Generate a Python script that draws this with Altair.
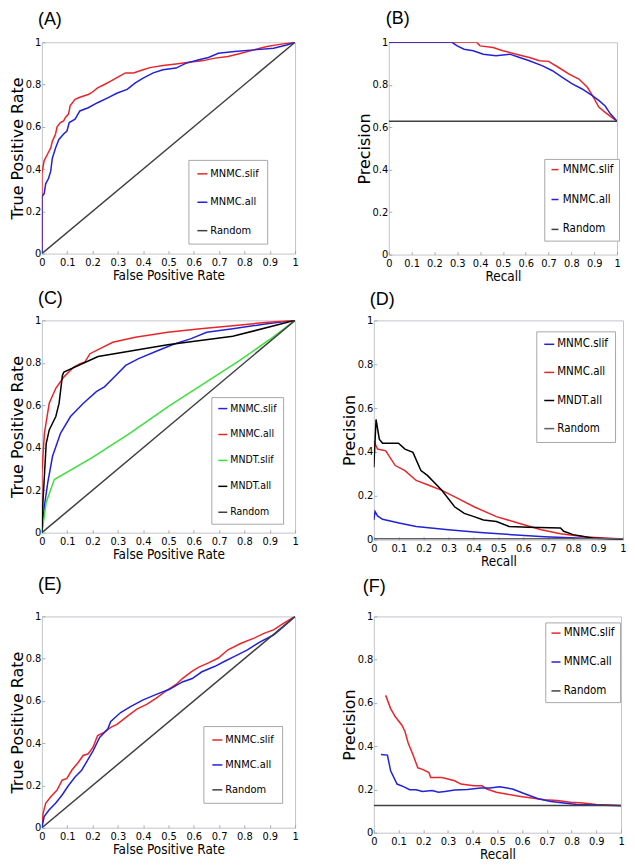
import altair as alt
import pandas as pd

NARROW = "'DejaVu Sans Condensed', 'DejaVu Sans', sans-serif"
SANS = "'DejaVu Sans', sans-serif"
TAG_FONT = "'Liberation Sans', Arial, sans-serif"

X_TICKS = [0, 0.1, 0.2, 0.3, 0.4, 0.5, 0.6, 0.7, 0.8, 0.9, 1]
Y_TICKS = [0, 0.2, 0.4, 0.6, 0.8, 1]

RED = "#e8262a"
BLUE = "#2222d8"
GREEN = "#3ce03c"
BLACK = "#000000"
RAND = "#404040"

# ---------------- Panel A : ROC ----------------
A_slif_x = [0, 0, 0.009, 0.022, 0.035, 0.041, 0.054, 0.06, 0.073, 0.086, 0.093, 0.105, 0.112, 0.131,
            0.15, 0.183, 0.195, 0.22, 0.247, 0.272, 0.298, 0.33, 0.362, 0.40, 0.427, 0.478, 0.53,
            0.58, 0.632, 0.684, 0.735, 0.787, 0.838, 0.889, 0.94, 1.0]
A_slif_y = [0, 0.38, 0.44, 0.47, 0.50, 0.53, 0.566, 0.60, 0.62, 0.628, 0.644, 0.66, 0.70, 0.73,
            0.74, 0.753, 0.76, 0.784, 0.80, 0.816, 0.834, 0.855, 0.855, 0.87, 0.88, 0.89, 0.897,
            0.905, 0.912, 0.925, 0.933, 0.948, 0.964, 0.98, 0.99, 1.0]
A_all_x = [0, 0, 0.009, 0.015, 0.026, 0.035, 0.041, 0.054, 0.067, 0.086, 0.099, 0.108, 0.131, 0.15,
           0.183, 0.22, 0.26, 0.298, 0.337, 0.369, 0.40, 0.44, 0.478, 0.53, 0.568, 0.62, 0.658,
           0.697, 0.761, 0.838, 0.915, 0.967, 1.0]
A_all_y = [0, 0.27, 0.284, 0.33, 0.355, 0.39, 0.45, 0.50, 0.54, 0.566, 0.58, 0.62, 0.636, 0.675,
           0.69, 0.714, 0.737, 0.76, 0.777, 0.808, 0.83, 0.855, 0.87, 0.878, 0.90, 0.917, 0.928,
           0.948, 0.956, 0.964, 0.972, 0.987, 1.0]
A_rand_x = [0, 1]
A_rand_y = [0, 1]

# ---------------- Panel B : PR ----------------
B_slif_x = [0, 0.385, 0.40, 0.457, 0.50, 0.558, 0.616, 0.66, 0.70, 0.746, 0.79, 0.833, 0.87,
            0.897, 0.92, 0.948, 0.977, 1.0]
B_slif_y = [1, 1, 0.983, 0.975, 0.96, 0.944, 0.928, 0.913, 0.91, 0.88, 0.85, 0.827, 0.788,
            0.74, 0.695, 0.67, 0.646, 0.628]
B_all_x = [0, 0.277, 0.30, 0.33, 0.37, 0.414, 0.47, 0.53, 0.573, 0.616, 0.674, 0.717, 0.76,
           0.804, 0.847, 0.89, 0.92, 0.948, 0.97, 1.0]
B_all_y = [1, 1, 0.983, 0.967, 0.96, 0.944, 0.936, 0.944, 0.928, 0.913, 0.889, 0.866, 0.835,
           0.804, 0.78, 0.75, 0.726, 0.70, 0.664, 0.628]
B_rand_x = [0, 1]
B_rand_y = [0.628, 0.628]

# ---------------- Panel C : ROC ----------------
C_slif_x = [0, 0.01, 0.023, 0.042, 0.074, 0.113, 0.164, 0.215, 0.247, 0.28, 0.331, 0.382,
            0.459, 0.523, 0.587, 0.651, 0.754, 0.882, 1.0]
C_slif_y = [0, 0.126, 0.235, 0.36, 0.469, 0.547, 0.61, 0.664, 0.687, 0.726, 0.788, 0.82,
            0.858, 0.889, 0.913, 0.944, 0.96, 0.983, 1.0]
C_all_x = [0, 0, 0.01, 0.029, 0.055, 0.087, 0.126, 0.151, 0.17, 0.19, 0.228, 0.28, 0.369,
           0.497, 0.626, 0.754, 0.882, 1.0]
C_all_y = [0, 0.28, 0.469, 0.61, 0.68, 0.734, 0.78, 0.796, 0.804, 0.843, 0.866, 0.897, 0.92,
           0.944, 0.96, 0.975, 0.99, 1.0]
C_dtslif_x = [0, 0.017, 0.049, 0.2, 0.35, 0.5, 0.65, 0.78, 0.9, 1.0]
C_dtslif_y = [0, 0.142, 0.25, 0.355, 0.47, 0.595, 0.71, 0.81, 0.91, 1.0]
C_dtall_x = [0, 0.004, 0.017, 0.029, 0.055, 0.068, 0.081, 0.087, 0.222, 0.497, 0.754, 1.0]
C_dtall_y = [0, 0.142, 0.42, 0.484, 0.547, 0.61, 0.741, 0.757, 0.83, 0.885, 0.925, 1.0]
C_rand_x = [0, 1]
C_rand_y = [0, 1]

# ---------------- Panel D : PR ----------------
D_slif_x = [0, 0.005, 0.015, 0.035, 0.106, 0.17, 0.299, 0.427, 0.556, 0.685, 0.813, 1.0]
D_slif_y = [0.09, 0.128, 0.108, 0.093, 0.075, 0.06, 0.045, 0.033, 0.0225, 0.0135, 0.0075, 0.003]
D_all_x = [0, 0.015, 0.048, 0.086, 0.125, 0.17, 0.221, 0.273, 0.337, 0.402, 0.492, 0.582,
           0.672, 0.749, 0.852, 1.0]
D_all_y = [0.45, 0.413, 0.405, 0.338, 0.315, 0.27, 0.248, 0.225, 0.188, 0.15, 0.105, 0.075,
           0.045, 0.027, 0.012, 0.003]
D_dtall_x = [0, 0.009, 0.022, 0.035, 0.099, 0.125, 0.157, 0.189, 0.215, 0.273, 0.324, 0.363,
             0.402, 0.44, 0.492, 0.543, 0.62, 0.749, 0.762, 0.80, 0.878, 1.0]
D_dtall_y = [0.33, 0.548, 0.458, 0.44, 0.44, 0.413, 0.398, 0.315, 0.293, 0.225, 0.15, 0.12,
             0.105, 0.09, 0.083, 0.06, 0.057, 0.053, 0.038, 0.023, 0.0075, 0.0]
D_rand_x = [0, 1]
D_rand_y = [0.0045, 0.0045]

# ---------------- Panel E : ROC ----------------
E_slif_x = [0, 0.005, 0.015, 0.035, 0.06, 0.08, 0.099, 0.118, 0.144, 0.163, 0.183, 0.202, 0.22,
            0.247, 0.272, 0.298, 0.337, 0.375, 0.414, 0.452, 0.49, 0.53, 0.555, 0.594, 0.62,
            0.658, 0.697, 0.735, 0.787, 0.838, 0.877, 0.915, 0.954, 1.0]
E_slif_y = [0, 0.069, 0.116, 0.147, 0.178, 0.225, 0.233, 0.272, 0.31, 0.342, 0.35, 0.381, 0.436,
            0.452, 0.475, 0.49, 0.527, 0.561, 0.584, 0.613, 0.647, 0.678, 0.706, 0.741, 0.76,
            0.78, 0.803, 0.842, 0.873, 0.897, 0.92, 0.936, 0.967, 1.0]
E_all_x = [0, 0.009, 0.028, 0.054, 0.08, 0.105, 0.131, 0.157, 0.176, 0.202, 0.228, 0.26, 0.272,
           0.311, 0.35, 0.40, 0.452, 0.504, 0.555, 0.594, 0.632, 0.684, 0.722, 0.761, 0.812,
           0.864, 0.915, 0.954, 1.0]
E_all_y = [0, 0.053, 0.084, 0.116, 0.155, 0.20, 0.24, 0.272, 0.31, 0.364, 0.427, 0.467, 0.503,
           0.545, 0.573, 0.605, 0.631, 0.655, 0.69, 0.706, 0.738, 0.764, 0.788, 0.811, 0.842,
           0.881, 0.912, 0.952, 1.0]
E_rand_x = [0, 1]
E_rand_y = [0, 1]

# ---------------- Panel F : PR ----------------
F_slif_x = [0.048, 0.068, 0.087, 0.113, 0.126, 0.139, 0.158, 0.178, 0.197, 0.223, 0.23, 0.275,
            0.30, 0.327, 0.353, 0.405, 0.438, 0.457, 0.496, 0.535, 0.587, 0.639, 0.69, 0.743,
            0.795, 0.847, 0.899, 1.0]
F_slif_y = [0.635, 0.574, 0.536, 0.498, 0.468, 0.415, 0.362, 0.30, 0.293, 0.278, 0.255, 0.255,
            0.248, 0.24, 0.225, 0.217, 0.217, 0.202, 0.187, 0.179, 0.169, 0.16, 0.152, 0.149,
            0.141, 0.137, 0.131, 0.126]
F_all_x = [0.029, 0.055, 0.068, 0.094, 0.12, 0.145, 0.171, 0.197, 0.236, 0.262, 0.288, 0.327,
           0.379, 0.431, 0.47, 0.509, 0.561, 0.613, 0.665, 0.717, 0.769, 0.821, 0.899, 1.0]
F_all_y = [0.362, 0.359, 0.286, 0.225, 0.213, 0.199, 0.199, 0.191, 0.195, 0.187, 0.191, 0.198,
           0.20, 0.207, 0.207, 0.213, 0.202, 0.179, 0.157, 0.144, 0.137, 0.131, 0.128, 0.125]
F_rand_x = [0, 1]
F_rand_y = [0.126, 0.126]

NB = "\u00a0"


def frame(series):
    rows = []
    for name, xs, ys in series:
        for i, (x, y) in enumerate(zip(xs, ys)):
            rows.append({"series": name, "x": x, "y": y, "i": i})
    return pd.DataFrame(rows)


def panel(series, colors, widths, xtitle, ytitle, tag, w, h, tdx, tdy, leg):
    names = [s[0] for s in series]
    df = frame(series)
    legend = alt.Legend(
        orient="none", direction="vertical", title=None,
        symbolType="stroke", symbolStrokeWidth=1.5,
        labelFont=NARROW, labelColor="black", labelOffset=2, labelLimit=300,
        strokeColor="#a8a8a8", fillColor="white",
        **leg,
    )
    return alt.Chart(
        df,
        title=alt.TitleParams(tag, anchor="start", frame="group", dx=tdx, dy=tdy, offset=0,
                              fontSize=18, font=TAG_FONT, fontWeight="normal",
                              baseline="bottom", color="black"),
    ).mark_line(clip=True).encode(
        x=alt.X("x:Q", scale=alt.Scale(domain=[0, 1], nice=False, zero=False),
                axis=alt.Axis(values=X_TICKS, format=".1~f", title=xtitle,
                              offset=-3, ticks=True, tickSize=3,
                              labelPadding=3, titlePadding=1,
                              titleFont=NARROW, titleFontSize=13.5)),
        y=alt.Y("y:Q", scale=alt.Scale(domain=[0, 1], nice=False, zero=False),
                axis=alt.Axis(values=Y_TICKS, format=".1~f", title=ytitle,
                              offset=-3, ticks=True, tickSize=3,
                              labelPadding=1, titlePadding=0,
                              titleFont=SANS, titleFontSize=16)),
        color=alt.Color("series:N", scale=alt.Scale(domain=names, range=colors), legend=legend),
        strokeWidth=alt.StrokeWidth("series:N", scale=alt.Scale(domain=names, range=widths),
                                    legend=None),
        order=alt.Order("i:Q"),
    ).properties(width=w, height=h)


chartA = panel(
    [("MNMC.slif", A_slif_x, A_slif_y), ("MNMC.all", A_all_x, A_all_y), ("Random", A_rand_x, A_rand_y)],
    [RED, BLUE, RAND], [1.5, 1.5, 1.1],
    "False Positive Rate", "True Positive Rate", "(A)", 254, 212, -4, 11,
    dict(legendX=147, legendY=118, symbolSize=100, labelFontSize=11, rowPadding=17.5, padding=8,
         labelExpr="datum.label + '" + NB * 5 + "'"),
)
chartB = panel(
    [("MNMC.slif", B_slif_x, B_slif_y), ("MNMC.all", B_all_x, B_all_y), ("Random", B_rand_x, B_rand_y)],
    [RED, BLUE, RAND], [1.5, 1.5, 1.1],
    "Recall", "Precision", "(B)", 229, 213, -3, 10,
    dict(legendX=156, legendY=117, symbolSize=49, labelFontSize=11.5, rowPadding=17, padding=5),
)
chartC = panel(
    [("MNMC.slif", C_slif_x, C_slif_y), ("MNMC.all", C_all_x, C_all_y),
     ("MNDT.slif", C_dtslif_x, C_dtslif_y), ("MNDT.all", C_dtall_x, C_dtall_y),
     ("Random", C_rand_x, C_rand_y)],
    [BLUE, RED, GREEN, BLACK, RAND], [1.5, 1.5, 1.6, 1.6, 1.1],
    "False Positive Rate", "True Positive Rate", "(C)", 254, 213, -4, 12,
    dict(legendX=170, legendY=77, symbolSize=81, labelFontSize=10.5, rowPadding=15, padding=6),
)
chartD = panel(
    [("MNMC.slif", D_slif_x, D_slif_y), ("MNMC.all", D_all_x, D_all_y),
     ("MNDT.all", D_dtall_x, D_dtall_y), ("Random", D_rand_x, D_rand_y)],
    [BLUE, RED, BLACK, "#606060"], [1.5, 1.5, 1.5, 2],
    "Recall", "Precision", "(D)", 250, 220, -4, 13,
    dict(legendX=163, legendY=11, symbolSize=100, labelFontSize=11.5, rowPadding=16.2, padding=7,
         labelExpr="datum.label + '" + NB * 6 + "'"),
)
chartE = panel(
    [("MNMC.slif", E_slif_x, E_slif_y), ("MNMC.all", E_all_x, E_all_y), ("Random", E_rand_x, E_rand_y)],
    [RED, BLUE, RAND], [1.5, 1.5, 1.1],
    "False Positive Rate", "True Positive Rate", "(E)", 254, 212, -4, 1,
    dict(legendX=162, legendY=110, symbolSize=100, labelFontSize=11, rowPadding=14, padding=8),
)
chartF = panel(
    [("MNMC.slif", F_slif_x, F_slif_y), ("MNMC.all", F_all_x, F_all_y), ("Random", F_rand_x, F_rand_y)],
    [RED, BLUE, RAND], [1.5, 1.5, 1.1],
    "Recall", "Precision", "(F)", 248, 217, -11, 4,
    dict(legendX=172, legendY=6, symbolSize=81, labelFontSize=11.5, rowPadding=16, padding=5),
)

row1 = alt.hconcat(chartA, chartB, spacing=56).resolve_scale(
    color="independent", strokeWidth="independent")
row2 = alt.hconcat(chartC, chartD, spacing=41).resolve_scale(
    color="independent", strokeWidth="independent")
row3 = alt.hconcat(chartE, chartF, spacing=41).resolve_scale(
    color="independent", strokeWidth="independent")

chart = alt.vconcat(row1, row2, row3, spacing=6).resolve_scale(
    color="independent", strokeWidth="independent"
).properties(padding=0).configure_view(
    stroke="#c4c4cc", strokeWidth=1
).configure_axis(
    grid=False, domain=False, tickColor="#9a9a9a", tickWidth=0.8,
    labelFont=NARROW, labelFontSize=11, labelColor="black",
    titleColor="black", titleFontWeight="normal",
    labelOverlap=False, labelFlush=False,
)

chart.save("out.html", embed_options={"renderer": "svg", "actions": False})
